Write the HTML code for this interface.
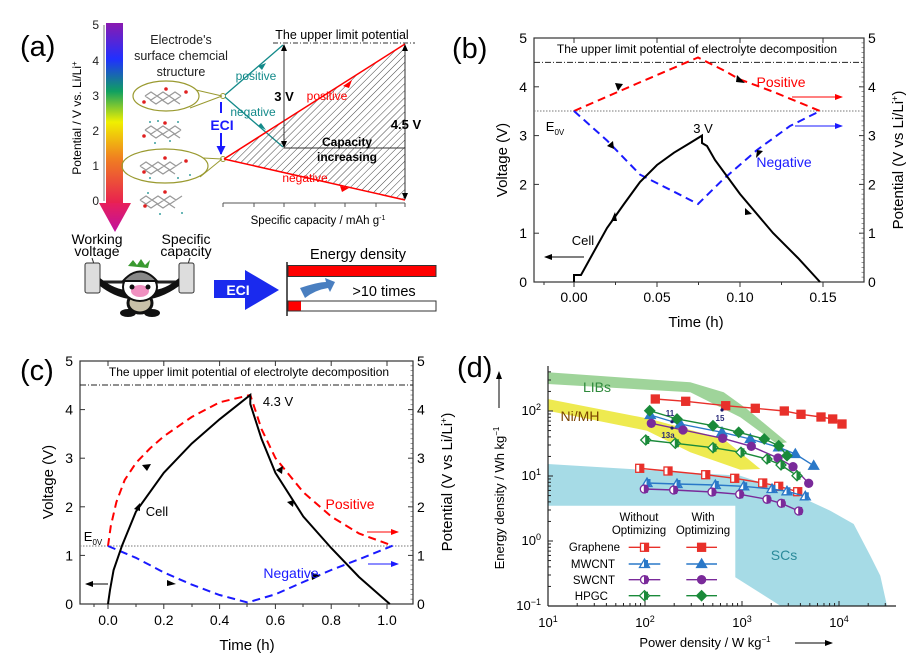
<!DOCTYPE html>
<html><head><meta charset="utf-8"><style>
html,body{margin:0;padding:0;background:#fff;}
svg{display:block;font-family:"Liberation Sans",sans-serif;}
</style></head><body>
<svg id="s" width="914" height="658" viewBox="0 0 914 658" xmlns="http://www.w3.org/2000/svg">
<defs>
<linearGradient id="rb" x1="0" y1="0" x2="0" y2="1">
<stop offset="0" stop-color="#8a1ab0"/><stop offset="0.2" stop-color="#2030ff"/><stop offset="0.38" stop-color="#10a060"/><stop offset="0.55" stop-color="#f0f000"/><stop offset="0.75" stop-color="#f08020"/><stop offset="1" stop-color="#e82050"/></linearGradient>
<linearGradient id="hd" x1="0" y1="0" x2="0" y2="1"><stop offset="0" stop-color="#e8205a"/><stop offset="1" stop-color="#c010a0"/></linearGradient>
<pattern id="hatch" width="5" height="5" patternUnits="userSpaceOnUse" patternTransform="rotate(45)"><line x1="0" y1="0" x2="0" y2="5" stroke="#444" stroke-width="1"/></pattern>
<marker id="ak" markerWidth="8" markerHeight="8" refX="7" refY="4" orient="auto" markerUnits="userSpaceOnUse"><path d="M0,1 L8,4 L0,7z" fill="#000"/></marker>
<marker id="ab" markerWidth="9" markerHeight="9" refX="8" refY="4.5" orient="auto" markerUnits="userSpaceOnUse"><path d="M0,0 L9,4.5 L0,9z" fill="#1a1aff"/></marker>
<marker id="ar" markerWidth="8" markerHeight="8" refX="7" refY="4" orient="auto" markerUnits="userSpaceOnUse"><path d="M0,1 L8,4 L0,7z" fill="#f00"/></marker>
<marker id="abl" markerWidth="8" markerHeight="8" refX="7" refY="4" orient="auto" markerUnits="userSpaceOnUse"><path d="M0,1 L8,4 L0,7z" fill="#1a1aff"/></marker>
</defs>

<!-- ===== Panel (a) ===== -->
<text x="20" y="56" font-size="29">(a)</text>
<rect x="106" y="23" width="17" height="180" fill="url(#rb)"/>
<path d="M99,203 L131,203 L115,232z" fill="url(#hd)"/>
<line x1="104" y1="25" x2="104" y2="201" stroke="#555" stroke-width="0.8"/>
<g font-size="12" text-anchor="end" fill="#222">
<text x="99" y="29">5</text><text x="99" y="65">4</text><text x="99" y="100">3</text><text x="99" y="135">2</text><text x="99" y="170">1</text><text x="99" y="205">0</text></g>
<text transform="translate(81,118) rotate(-90)" font-size="12" text-anchor="middle">Potential / V vs. Li/Li<tspan dy="-4" font-size="8">+</tspan></text>
<g font-size="12.5" text-anchor="middle" fill="#222"><text x="181" y="44">Electrode's</text><text x="181" y="60">surface chemcial</text><text x="181" y="76">structure</text></g>
<ellipse cx="166" cy="96" rx="33" ry="15" fill="none" stroke="#9a9a30" stroke-width="1.2"/>
<ellipse cx="165" cy="166" rx="43" ry="17" fill="none" stroke="#9a9a30" stroke-width="1.2"/>
<line x1="196" y1="90" x2="222" y2="96" stroke="#9a9a30"/><line x1="190" y1="108" x2="222" y2="96" stroke="#9a9a30"/>
<line x1="203" y1="158" x2="222" y2="159" stroke="#9a9a30"/><line x1="200" y1="177" x2="222" y2="159" stroke="#9a9a30"/>
<g stroke="#999" stroke-width="1.2" fill="none">
<path d="M145,96 l6,-4 6,4 6,-4 6,4 6,-4 6,4 M145,96 l6,4 6,-4 6,4 6,-4 6,4 6,-4 M150,100 l6,4 6,-4 6,4 6,-4 6,4"/>
<path d="M145,130 l6,-4 6,4 6,-4 6,4 6,-4 6,4 M145,130 l6,4 6,-4 6,4 6,-4 6,4 6,-4 M150,134 l6,4 6,-4 6,4 6,-4 6,4"/>
<path d="M140,166 l6,-4 6,4 6,-4 6,4 6,-4 6,4 6,-4 M140,166 l6,4 6,-4 6,4 6,-4 6,4 6,-4 M145,170 l6,4 6,-4 6,4 6,-4 6,4"/>
<path d="M140,200 l6,-4 6,4 6,-4 6,4 6,-4 6,4 6,-4 M140,200 l6,4 6,-4 6,4 6,-4 6,4 6,-4 M145,204 l6,4 6,-4 6,4 6,-4 6,4"/>
</g>
<g fill="#e02020"><circle cx="166" cy="89" r="1.8"/><circle cx="144" cy="102" r="1.8"/><circle cx="186" cy="92" r="1.8"/><circle cx="165" cy="123" r="1.8"/><circle cx="144" cy="136" r="1.8"/><circle cx="165" cy="158" r="1.8"/><circle cx="144" cy="172" r="1.8"/><circle cx="186" cy="161" r="1.8"/><circle cx="165" cy="192" r="1.8"/><circle cx="145" cy="206" r="1.8"/></g>
<g fill="#3aa0a0"><circle cx="150" cy="122" r="1"/><circle cx="158" cy="121" r="1"/><circle cx="178" cy="122" r="1"/><circle cx="170" cy="141" r="1"/><circle cx="155" cy="143" r="1"/><circle cx="150" cy="178" r="1"/><circle cx="178" cy="178" r="1"/><circle cx="190" cy="175" r="1"/><circle cx="148" cy="193" r="1"/><circle cx="182" cy="213" r="1"/><circle cx="160" cy="214" r="1"/></g>
<circle cx="223" cy="96" r="2.5" fill="none" stroke="#9a9a30"/><circle cx="223" cy="159" r="2.5" fill="none" stroke="#9a9a30"/>
<line x1="225" y1="95" x2="283" y2="45" stroke="#138a8a" stroke-width="1.3"/>
<line x1="225" y1="97" x2="283" y2="147" stroke="#138a8a" stroke-width="1.3"/>
<path d="M258,66 l8,-3 -4,7z M258,126 l8,4 -5,-7z" fill="#138a8a"/>
<text x="256" y="80" font-size="12" fill="#138a8a" text-anchor="middle">positive</text>
<text x="253" y="116" font-size="12" fill="#138a8a" text-anchor="middle">negative</text>
<line x1="221" y1="102" x2="221" y2="113" stroke="#1a1aff" stroke-width="2"/>
<line x1="221" y1="133" x2="221" y2="154" stroke="#1a1aff" stroke-width="2" marker-end="url(#ab)"/>
<text x="222" y="130" font-size="14" font-weight="bold" fill="#1a1aff" text-anchor="middle">ECI</text>
<path d="M224,159 L405,44 L405,200z" fill="url(#hatch)"/>
<line x1="224" y1="159" x2="405" y2="44" stroke="#f00" stroke-width="1.5"/>
<line x1="224" y1="159" x2="405" y2="200" stroke="#f00" stroke-width="1.5"/>
<path d="M343,86 l9,-6 -3,8z M340,186 l9,2 -7,4z" fill="#f00"/>
<text x="327" y="100" font-size="12" fill="#f00" text-anchor="middle">positive</text>
<text x="305" y="182" font-size="12" fill="#f00" text-anchor="middle">negative</text>
<line x1="273" y1="43" x2="415" y2="43" stroke="#333" stroke-dasharray="5,2,1,2"/>
<text x="342" y="39" font-size="12.5" text-anchor="middle">The upper limit potential</text>
<line x1="284" y1="50" x2="284" y2="142" stroke="#333"/>
<path d="M284,44 l-3,7 6,0z M284,148 l-3,-7 6,0z" fill="#000"/>
<line x1="284" y1="148" x2="405" y2="148" stroke="#333"/>
<line x1="405" y1="50" x2="405" y2="194" stroke="#333"/>
<path d="M405,44 l-3,7 6,0z M405,200 l-3,-7 6,0z" fill="#000"/>
<text x="284" y="101" font-size="13" font-weight="bold" text-anchor="middle">3 V</text>
<text x="406" y="129" font-size="13" font-weight="bold" text-anchor="middle">4.5 V</text>
<text x="347" y="146" font-size="12" font-weight="bold" text-anchor="middle">Capacity</text>
<text x="347" y="161" font-size="12" font-weight="bold" text-anchor="middle">increasing</text>
<line x1="223" y1="203" x2="405" y2="203" stroke="#555"/>
<g stroke="#555"><line x1="223" y1="203" x2="223" y2="207"/><line x1="254" y1="203" x2="254" y2="207"/><line x1="284" y1="203" x2="284" y2="207"/><line x1="315" y1="203" x2="315" y2="207"/><line x1="345" y1="203" x2="345" y2="207"/><line x1="376" y1="203" x2="376" y2="207"/><line x1="405" y1="203" x2="405" y2="207"/></g>
<text x="318" y="224" font-size="11.5" text-anchor="middle">Specific capacity / mAh g<tspan dy="-4" font-size="7">-1</tspan></text>
<g font-size="14" text-anchor="middle"><text x="97" y="244">Working</text><text x="97" y="256">voltage</text><text x="186" y="244">Specific</text><text x="186" y="256">capacity</text></g>
<line x1="98" y1="282" x2="182" y2="282" stroke="#222" stroke-width="3"/>
<line x1="92" y1="258" x2="94" y2="264" stroke="#222"/><line x1="190" y1="258" x2="188" y2="264" stroke="#222"/>
<rect x="85" y="263" width="15" height="30" rx="2" fill="#ddd" stroke="#333"/>
<rect x="179" y="263" width="15" height="30" rx="2" fill="#ddd" stroke="#333"/>
<path d="M100,278 Q115,290 128,290 L152,290 Q165,290 179,278 L179,286 Q160,300 140,300 Q118,300 100,286z" fill="#111"/>
<ellipse cx="140" cy="303" rx="12" ry="10" fill="#c8c0a8" stroke="#111" stroke-width="3"/>
<ellipse cx="128" cy="313" rx="8" ry="4" fill="#111"/><ellipse cx="152" cy="313" rx="8" ry="4" fill="#111"/>
<ellipse cx="140" cy="287" rx="17" ry="14" fill="#fff" stroke="#111" stroke-width="2"/>
<path d="M123,281 Q140,262 157,281z" fill="#888" stroke="#111" stroke-width="2"/>
<path d="M128,266 l5,-6 4,5 4,-6 4,6 5,-5 -2,8z" fill="#3a9a30"/>
<ellipse cx="140" cy="291" rx="9" ry="6" fill="#f090c0"/>
<circle cx="132" cy="287" r="2.5" fill="#111"/><circle cx="148" cy="287" r="2.5" fill="#111"/>
<path d="M214,280 L245,280 L245,270 L279,290 L245,310 L245,298 L214,298z" fill="#1a2aee"/>
<text x="238" y="295" font-size="14" font-weight="bold" fill="#fff" text-anchor="middle">ECI</text>
<text x="358" y="259" font-size="14.5" text-anchor="middle">Energy density</text>
<line x1="287" y1="262" x2="287" y2="316" stroke="#222" stroke-width="1.5"/>
<rect x="288" y="265.5" width="148" height="11" fill="#f00" stroke="#333"/>
<rect x="288" y="301" width="148" height="10" fill="#fff" stroke="#333"/>
<rect x="288.5" y="301.5" width="12.5" height="9" fill="#f00"/>
<path d="M300,288 Q318,282 326,282 L325,278 L335,282 L330,292 L328,288 Q315,290 305,298z" fill="#4a7fc0"/>
<text x="384" y="296" font-size="14.5" text-anchor="middle">&gt;10 times</text>

<!-- ===== Panel (b) ===== -->
<text x="452" y="58" font-size="29">(b)</text>
<g id="pb"></g>
<rect x="534" y="38" width="330" height="244" fill="none" stroke="#333" stroke-width="1.2"/>
<line x1="534" y1="62.4" x2="864" y2="62.4" stroke="#222" stroke-dasharray="6,2,1,2"/>
<line x1="534" y1="111" x2="864" y2="111" stroke="#777" stroke-dasharray="1.5,1.5"/>
<text x="697" y="53" font-size="12" text-anchor="middle">The upper limit potential of electrolyte decomposition</text>
<polyline points="574,111 636,84 698,57.5 723,70 740,79.5 773,91.7 820,111" fill="none" stroke="#f00" stroke-width="2" stroke-dasharray="8,5"/>
<polyline points="574,111 607,140.5 640,174.6 674,191.7 698,204 723,179.5 757,150 790,126 820,111" fill="none" stroke="#1a1aff" stroke-width="2" stroke-dasharray="8,5"/>
<polyline points="574,282 574,275 581,275 590.6,257.6 607,228 624,204 640,182 657,165 674,152.7 690,143 702,135.6 702,143 707,146 715,160 740,194 773,233 798,258 820,282" fill="none" stroke="#000" stroke-width="2"/>
<path d="M623,84 l-8,-1 3,8z M737,75 l8,8 -9,-1z M614,149 l-1,-8 -6,5z M757,150 l-1,8 7,-7z M611,221 l4,-9 2,9z M752,214 l-7,-6 0,7z" fill="#000"/>
<text x="781" y="87" font-size="14" fill="#f00" text-anchor="middle">Positive</text>
<line x1="792" y1="97" x2="842" y2="97" stroke="#f00" marker-end="url(#ar)"/>
<text x="784" y="167" font-size="14" fill="#1a1aff" text-anchor="middle">Negative</text>
<line x1="795" y1="126" x2="842" y2="126" stroke="#1a1aff" marker-end="url(#abl)"/>
<text x="555" y="131" font-size="13" text-anchor="middle">E<tspan dy="4" font-size="8">0V</tspan></text>
<text x="703" y="133" font-size="13" text-anchor="middle">3 V</text>
<text x="583" y="245" font-size="13" text-anchor="middle">Cell</text>
<line x1="584" y1="257" x2="545" y2="257" stroke="#000" marker-end="url(#ak)"/>
<text x="696" y="327" font-size="15" text-anchor="middle">Time (h)</text>
<text transform="translate(507,160) rotate(-90)" font-size="15" text-anchor="middle">Voltage (V)</text>
<text transform="translate(903,160) rotate(-90)" font-size="15" text-anchor="middle">Potential (V vs Li/Li<tspan dy="-5" font-size="9">+</tspan><tspan dy="5">)</tspan></text>

<!-- ===== Panel (c) ===== -->
<text x="20" y="380" font-size="29">(c)</text>
<g id="pc"></g>
<rect x="80" y="361" width="333" height="243" fill="none" stroke="#333" stroke-width="1.2"/>
<line x1="80" y1="385" x2="413" y2="385" stroke="#222" stroke-dasharray="6,2,1,2"/>
<line x1="80" y1="546" x2="413" y2="546" stroke="#777" stroke-dasharray="1.5,1.5"/>
<text x="249" y="376" font-size="12" text-anchor="middle">The upper limit potential of electrolyte decomposition</text>
<polyline points="108,546 110.8,526 116.4,502 124.7,480 135.9,463 149.9,448.5 163.8,436.3 191.7,417 219.6,402.3 250.3,395 261.5,429 275.4,458 303.3,492.2 331.2,516.5 359,533.5 392.6,545.7" fill="none" stroke="#f00" stroke-width="2" stroke-dasharray="8,5"/>
<polyline points="108,546 135.9,557.8 163.8,572.4 191.7,584.6 219.6,595 247.5,602.5 275.4,594.3 303.3,582 331.2,570 359,559.3 392.6,545.7" fill="none" stroke="#1a1aff" stroke-width="2" stroke-dasharray="8,5"/>
<polyline points="108,604 110,590 113.6,570 122,545.7 135.9,511.7 163.8,472.8 191.7,443.6 219.6,419.3 250.3,395 250.3,404 261.5,438.8 275.4,472.8 303.3,516.5 331.2,548 359,577 389.8,604" fill="none" stroke="#000" stroke-width="2"/>
<path d="M151,464 l-9,1 5,6z M282,474 l-6,-4 7,-4z M176,584 l-9,-4 0,6z M320,576 l-9,-4 1,8z M140,503 l-6,6 6,2z M293,507 l-6,-5 7,-2z" fill="#000"/>
<text x="350" y="509" font-size="14" fill="#f00" text-anchor="middle">Positive</text>
<line x1="367" y1="532" x2="398" y2="532" stroke="#f00" marker-end="url(#ar)"/>
<text x="291" y="578" font-size="14" fill="#1a1aff" text-anchor="middle">Negative</text>
<line x1="368" y1="564" x2="398" y2="564" stroke="#1a1aff" marker-end="url(#abl)"/>
<text x="93" y="541" font-size="13" text-anchor="middle">E<tspan dy="4" font-size="8">0V</tspan></text>
<text x="278" y="406" font-size="13" text-anchor="middle">4.3 V</text>
<text x="157" y="516" font-size="13" text-anchor="middle">Cell</text>
<line x1="108" y1="584" x2="86" y2="584" stroke="#000" marker-end="url(#ak)"/>
<text x="247" y="650" font-size="15" text-anchor="middle">Time (h)</text>
<text transform="translate(53,482) rotate(-90)" font-size="15" text-anchor="middle">Voltage (V)</text>
<text transform="translate(452,482) rotate(-90)" font-size="15" text-anchor="middle">Potential (V vs Li/Li<tspan dy="-5" font-size="9">+</tspan><tspan dy="5">)</tspan></text>

<!-- ===== Panel (d) ===== -->
<text x="457" y="377" font-size="29">(d)</text>
<polygon points="547.7,464 740.3,475.7 790.3,492.3 830.3,510.7 853.7,524 870.3,555.7 880.3,575.7 887,605.7 780.3,605.7 735.3,577.3 735.3,505.7 547.7,505.7" fill="#a6dbe6"/>
<polygon points="547.7,372.3 690.3,382.3 723.7,392.3 747,409 787,442.3 777,444 740.3,417.3 690.3,392.3 547.7,384" fill="#9fd49a"/>
<polygon points="547.7,399 650.3,419 723.7,439 760.3,469 740.3,469.7 690.3,452.3 647,430.7 547.7,410.7" fill="#eeea50"/>
<text x="597" y="392" font-size="14" fill="#2f8a3c" text-anchor="middle">LIBs</text>
<text x="580" y="421" font-size="14" fill="#7a4400" text-anchor="middle">Ni/MH</text>
<text x="784" y="560" font-size="14" fill="#2a8a9a" text-anchor="middle">SCs</text>
<g id="pd"></g>
<g fill="#1a1a6a"><circle cx="672" cy="421.7" r="1.6"/><circle cx="722" cy="410" r="1.6"/><circle cx="672" cy="428" r="1.6"/></g>
<g font-size="8" font-weight="bold" fill="#2a2a7a" text-anchor="middle"><text x="670" y="416">11</text><text x="720" y="421">15</text><text x="668" y="438">13a</text></g>
<line x1="548" y1="366" x2="548" y2="606" stroke="#222" stroke-width="1.2"/>
<line x1="548" y1="606" x2="896" y2="606" stroke="#222" stroke-width="1.2"/>
<g font-size="13" text-anchor="end"><text x="541" y="415">10<tspan dy="-5" font-size="9">2</tspan></text><text x="541" y="480">10<tspan dy="-5" font-size="9">1</tspan></text><text x="541" y="545">10<tspan dy="-5" font-size="9">0</tspan></text><text x="541" y="610">10<tspan dy="-5" font-size="9">−1</tspan></text></g>
<g font-size="13" text-anchor="middle"><text x="548" y="627">10<tspan dy="-5" font-size="9">1</tspan></text><text x="645" y="627">10<tspan dy="-5" font-size="9">2</tspan></text><text x="742" y="627">10<tspan dy="-5" font-size="9">3</tspan></text><text x="839" y="627">10<tspan dy="-5" font-size="9">4</tspan></text></g>
<text x="705" y="647" font-size="13" text-anchor="middle">Power density / W kg<tspan dy="-5" font-size="8">−1</tspan></text>
<line x1="795" y1="643" x2="832" y2="643" stroke="#000" marker-end="url(#ak)"/>
<text transform="translate(504,498) rotate(-90)" font-size="13" text-anchor="middle">Energy  density / Wh kg<tspan dy="-5" font-size="8">−1</tspan></text>
<line x1="499" y1="408" x2="499" y2="372" stroke="#000" marker-end="url(#ak)"/>
<g font-size="11.5" text-anchor="middle"><text x="639" y="521">Without</text><text x="639" y="534">Optimizing</text><text x="703" y="521">With</text><text x="703" y="534">Optimizing</text></g>
<g font-size="11.5" text-anchor="end"><text x="620" y="551">Graphene</text><text x="615" y="568">MWCNT</text><text x="615" y="584">SWCNT</text><text x="608" y="600">HPGC</text></g>
</svg>
<script>
var NS="http://www.w3.org/2000/svg";
function el(p,t,a){var e=document.createElementNS(NS,t);for(var k in a)e.setAttribute(k,a[k]);p.appendChild(e);return e;}
var pb=document.getElementById('pb'),pc=document.getElementById('pc'),pd=document.getElementById('pd');
function axes(g,L,R,T,B,yv,xticks,xlabels,xminor,lx,rx,ly){
 for(var v=0;v<=5;v++){var y=B-(B-T)*v/5;
  el(g,'line',{x1:L,y1:y,x2:L+5,y2:y,stroke:'#333'});el(g,'line',{x1:R-5,y1:y,x2:R,y2:y,stroke:'#333'});
  var t=el(g,'text',{x:lx,y:y+5,'font-size':14,'text-anchor':'end'});t.textContent=v;
  var t2=el(g,'text',{x:rx,y:y+5,'font-size':14});t2.textContent=v;}
 for(var v=0;v<50;v++){var y=B-(B-T)*v/50;el(g,'line',{x1:R-2.5,y1:y,x2:R,y2:y,stroke:'#555','stroke-width':0.6});}
 for(var i=0;i<xticks.length;i++){el(g,'line',{x1:xticks[i],y1:B,x2:xticks[i],y2:B+5,stroke:'#333'});el(g,'line',{x1:xticks[i],y1:T,x2:xticks[i],y2:T+5,stroke:'#333'});
  var t=el(g,'text',{x:xticks[i],y:ly,'font-size':14,'text-anchor':'middle'});t.textContent=xlabels[i];}
 for(var i=0;i<xminor.length;i++){el(g,'line',{x1:xminor[i],y1:B,x2:xminor[i],y2:B+3,stroke:'#333'});}
}
axes(pb,534,864,38,282,0,[574,657,740,823],['0.00','0.05','0.10','0.15'],[615.5,698.5,781.5,544],527,868,302);
axes(pc,80,413,361,604,0,[108,163.8,219.6,275.4,331.2,387],['0.0','0.2','0.4','0.6','0.8','1.0'],[136,192,247,303,359,94],73,417,625);
for(var d=-1;d<=2;d++){var y=541-65*d;el(pd,'line',{x1:548,y1:y,x2:553,y2:y,stroke:'#222'});
 for(var m=2;m<10;m++){var yy=541-65*(d+Math.log10(m));if(yy>366)el(pd,'line',{x1:548,y1:yy,x2:551,y2:yy,stroke:'#222'});}}
for(var d=1;d<=4;d++){var x=548+97*(d-1);el(pd,'line',{x1:x,y1:606,x2:x,y2:601,stroke:'#222'});
 for(var m=2;m<10;m++){var xx=548+97*(d-1+Math.log10(m));if(xx<896)el(pd,'line',{x1:xx,y1:606,x2:xx,y2:603,stroke:'#222'});}}
var S=[
 ['#e8302a','sq',1,[[655.3,399],[685.7,401.3],[725.7,405.7],[755.3,408.3],[784.3,411],[801,414.3],[821,417],[832.7,419],[842,424]]],
 ['#e8302a','sq',0,[[639.7,468.3],[668,471],[705.7,474.7],[734.7,478.3],[762.7,483],[778.7,486.3],[797.7,491.7]]],
 ['#2a78c8','tr',1,[[650.3,415],[680.3,424],[722,432.3],[750.3,439],[778.7,447.3],[795.3,454],[813.7,465.7]]],
 ['#2a78c8','tr',0,[[647,483],[677,484],[715.3,485],[743.7,486.3],[772,489],[787,491.3],[805.3,496.3]]],
 ['#7a2a9a','ci',1,[[651.3,423.3],[683,430],[722.7,438.3],[751.3,446.3],[778,458],[793,466.7],[808.7,483.3]]],
 ['#7a2a9a','ci',0,[[644.3,489],[673.7,490],[712,492],[739.7,494.3],[767,499.3],[781.3,503.3],[798.7,511]]],
 ['#1a8a3a','di',1,[[649.7,410.7],[677,419],[713,425.7],[738.7,432.3],[764.3,439],[778.7,445.7],[787,455.7]]],
 ['#1a8a3a','di',0,[[645.7,440],[675.3,443.3],[713,447.7],[741,452.3],[767,459],[781,465],[797,475.7]]]];
function mk(g,c,s,f,x,y){var fill=f?c:'#fff',a;
 if(s=='sq')a=el(g,'rect',{x:x-4,y:y-4,width:8,height:8});
 else if(s=='tr')a=el(g,'path',{d:'M'+x+','+(y-5)+' l5,8.5 -10,0z'});
 else if(s=='ci')a=el(g,'circle',{cx:x,cy:y,r:4});
 else a=el(g,'path',{d:'M'+x+','+(y-5)+' l5,5 -5,5 -5,-5z'});
 a.setAttribute('fill',fill);a.setAttribute('stroke',c);a.setAttribute('stroke-width',1.3);
 if(!f){el(g,'rect',{x:x-0.5,y:y-4,width:4,height:8,fill:c});}}
S.forEach(function(s){el(pd,'polyline',{points:s[3].map(function(p){return p.join(',')}).join(' '),fill:'none',stroke:s[0],'stroke-width':1.4});
 s[3].forEach(function(p){mk(pd,s[0],s[1],s[2],p[0],p[1]);});});
var rows=[547.3,564,579.7,595.7];
for(var i=0;i<4;i++){var o=S[i*2+1],f=S[i*2];
 el(pd,'line',{x1:628.7,y1:rows[i],x2:660.3,y2:rows[i],stroke:o[0],'stroke-width':1.4});mk(pd,o[0],o[1],0,644.5,rows[i]);
 el(pd,'line',{x1:686.3,y1:rows[i],x2:717,y2:rows[i],stroke:f[0],'stroke-width':1.4});mk(pd,f[0],f[1],1,701.6,rows[i]);}
</script>
</body></html>
